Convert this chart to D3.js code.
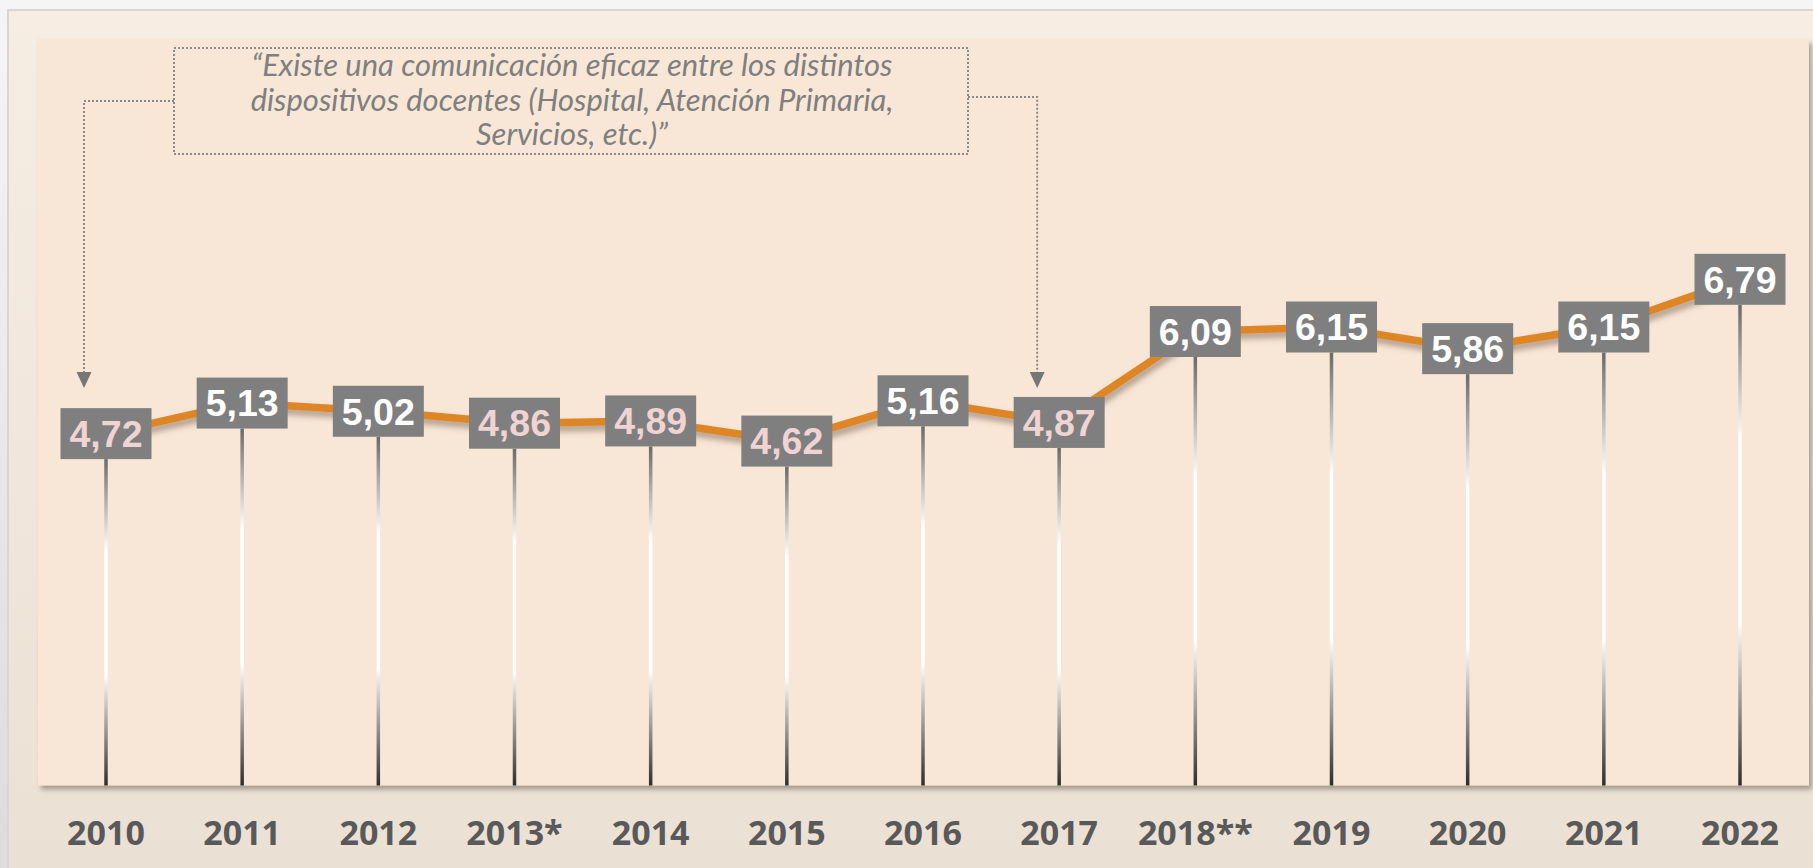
<!DOCTYPE html>
<html><head><meta charset="utf-8">
<script src="https://cdn.jsdelivr.net/npm/d3@7"></script>
<style>
html,body{margin:0;padding:0;background:#f5f5f5;overflow:hidden;}
svg{display:block;}
</style></head>
<body>
<svg id="chart" width="1813" height="868"></svg>
<script>
// ---- data ----
const years = ["2010","2011","2012","2013*","2014","2015","2016","2017","2018**","2019","2020","2021","2022"];
const values = [4.72,5.13,5.02,4.86,4.89,4.62,5.16,4.87,6.09,6.15,5.86,6.15,6.79];
const valueLabels = ["4,72","5,13","5,02","4,86","4,89","4,62","5,16","4,87","6,09","6,15","5,86","6,15","6,79"];
const quoteLines = ["“Existe una comunicación eficaz entre los distintos","dispositivos docentes (Hospital, Atención Primaria,","Servicios, etc.)”"];
const arrowTargets = ["2010","2017"];

const W = 1813, H = 868;
const svg = d3.select("#chart");
const defs = svg.append("defs");

// gradients
const pg = defs.append("linearGradient").attr("id","pageGrad").attr("x1",0).attr("y1",0).attr("x2",0).attr("y2",1);
pg.append("stop").attr("offset","0%").attr("stop-color","#f5f5f5");
pg.append("stop").attr("offset","100%").attr("stop-color","#dcdcdc");
const og = defs.append("linearGradient").attr("id","outerGrad").attr("x1",0).attr("y1",0).attr("x2",0).attr("y2",1);
og.append("stop").attr("offset","0%").attr("stop-color","#f6ede3");
og.append("stop").attr("offset","100%").attr("stop-color","#ebe0d4");
const sg = defs.append("linearGradient").attr("id","stemGrad").attr("x1",0).attr("y1",0).attr("x2",0).attr("y2",1);
[["0%","#6a6a6a"],["28%","#ffffff"],["66%","#ffffff"],["100%","#2e2e2e"]].forEach(s=>sg.append("stop").attr("offset",s[0]).attr("stop-color",s[1]));

const f1 = defs.append("filter").attr("id","panelShadow").attr("x","-5%").attr("y","-5%").attr("width","110%").attr("height","115%");
f1.append("feDropShadow").attr("dx",3).attr("dy",4).attr("stdDeviation",2.5).attr("flood-color","#6b5f55").attr("flood-opacity",0.55);
const f2 = defs.append("filter").attr("id","lineShadow").attr("x","-5%").attr("y","-20%").attr("width","110%").attr("height","150%");
f2.append("feDropShadow").attr("dx",2).attr("dy",5).attr("stdDeviation",3).attr("flood-color","#6e5a48").attr("flood-opacity",0.55);

// page background
svg.append("rect").attr("x",0).attr("y",0).attr("width",W).attr("height",H).attr("fill","url(#pageGrad)");
// outer panel
svg.append("rect").attr("x",8).attr("y",10).attr("width",W).attr("height",H).attr("fill","url(#outerGrad)")
  .attr("stroke","#d6d6d6").attr("stroke-width",2);

// scales
const plotLeft = 38, plotTop = 39, plotRight = 1809, plotBottom = 785.5;
const x = d3.scalePoint().domain(years).range([106, 1740]);
const y = d3.scaleLinear().domain([0,10]).range([plotBottom, 40]);

// inner plot panel
svg.append("rect").attr("x",plotLeft).attr("y",plotTop).attr("width",plotRight-plotLeft).attr("height",plotBottom-plotTop)
  .attr("fill","#f8e7d6").attr("filter","url(#panelShadow)");

const data = years.map((yr,i)=>({yr, v:values[i], lab:valueLabels[i]}));
const boxW = 91, boxH = 51;

// stems
svg.append("g").selectAll("rect").data(data).join("rect")
  .attr("x",d=>x(d.yr)-1.75).attr("width",3.5)
  .attr("y",d=>y(d.v)+boxH/2).attr("height",d=>plotBottom-(y(d.v)+boxH/2))
  .attr("fill","url(#stemGrad)");

// line
const line = d3.line().x(d=>x(d.yr)).y(d=>y(d.v));
svg.append("path").datum(data).attr("d",line).attr("fill","none")
  .attr("stroke","#de8628").attr("stroke-width",7.5).attr("stroke-linejoin","miter")
  .attr("filter","url(#lineShadow)");

// label boxes
const lg = svg.append("g").selectAll("g").data(data).join("g")
  .attr("transform",d=>`translate(${x(d.yr)},${y(d.v)})`);
lg.append("rect").attr("x",-boxW/2).attr("y",-boxH/2).attr("width",boxW).attr("height",boxH).attr("fill","#7f7f7f");
lg.append("text").attr("text-anchor","middle").attr("y",13.3)
  .attr("font-family","'Liberation Sans', Arial, sans-serif").attr("font-weight",700).attr("font-size",37.5)
  .attr("fill",d=>d.v<5?"#f0d3d3":"#ffffff").text(d=>d.lab);

// x axis labels
svg.append("g").selectAll("text").data(years).join("text")
  .attr("x",d=>x(d)).attr("y",845).attr("text-anchor","middle")
  .attr("font-family","'Open Sans', sans-serif").attr("font-weight",700).attr("font-size",34)
  .attr("fill","#595959").text(d=>d);

// quote box
const qx0 = 174, qx1 = 968, qy0 = 48, qy1 = 154;
const dotted = {stroke:"#8a8a8a","stroke-width":2,"stroke-dasharray":"2,2",fill:"none"};
const qb = svg.append("rect").attr("x",qx0).attr("y",qy0).attr("width",qx1-qx0).attr("height",qy1-qy0);
Object.entries(dotted).forEach(([k,v])=>qb.attr(k,v));

const connectors = [
  {from:[qx0,101], tx:x(arrowTargets[0])-22},
  {from:[qx1,97], tx:x(arrowTargets[1])-22}
];
const tipY = 388, triH = 16;
connectors.forEach(c=>{
  const p = svg.append("path").attr("d",`M${c.from[0]},${c.from[1]}H${c.tx}V${tipY-triH}`);
  Object.entries(dotted).forEach(([k,v])=>p.attr(k,v));
  svg.append("path").attr("d",`M${c.tx-7.5},${tipY-triH}L${c.tx+7.5},${tipY-triH}L${c.tx},${tipY}Z`).attr("fill","#767676");
});

// quote text
const qt = svg.append("g");
const cx = 572;
const qText = qt.selectAll("text").data(quoteLines).join("text")
  .attr("x",cx).attr("y",(d,i)=>76+i*34.5).attr("text-anchor","middle")
  .attr("font-family","Lato, 'Open Sans', sans-serif").attr("font-style","italic").attr("font-size",27)
  .attr("fill","#7f7f7f").text(d=>d);
// fit first line width to ~641px
const w0 = qText.nodes()[0].getComputedTextLength();
if (w0>0) { const fs = 27*641/w0; qText.attr("font-size",fs); }
</script>
</body></html>
